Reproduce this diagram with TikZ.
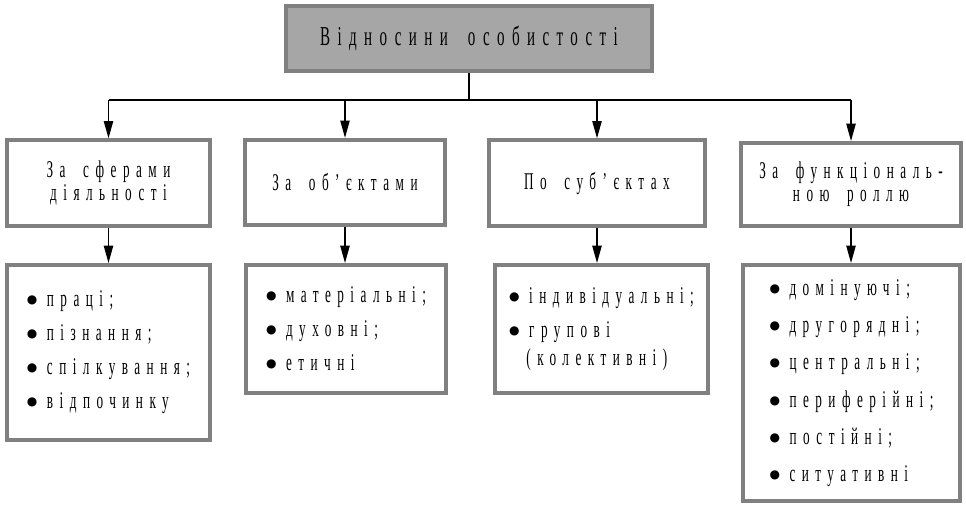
\documentclass[tikz,border=0pt]{standalone}
\usepackage{fontspec}
\usepackage{tikz}
\usetikzlibrary{arrows.meta}
\newfontfamily\nar[FakeStretch=0.55,LetterSpace=27,WordSpace=1.8]{Liberation Serif}
\newfontfamily\bltfont{DejaVu Sans}
\definecolor{rim}{RGB}{128,128,128}
\definecolor{headfill}{RGB}{166,166,166}
\newcommand\itm{\makebox[15pt][l]{\raisebox{2.2pt}{\bltfont\fontsize{9}{0}\selectfont ●}}}

\begin{document}
\begin{tikzpicture}[x=0.75pt,y=-0.75pt,
  headbox/.style={draw=rim,line width=3pt,fill=headfill,inner sep=0pt,
    minimum width=274.5pt,minimum height=48.75pt,
    font=\nar\fontsize{20.5}{24}\selectfont},
  catbox/.style={draw=rim,line width=3pt,fill=white,inner sep=0pt,align=center,
    minimum height=64pt,font=\nar\fontsize{18}{17.25}\selectfont},
  listbox/.style={draw=rim,line width=3pt,fill=white,inner sep=0pt,align=left,
    font=\nar\fontsize{18}{25.5}\selectfont},
  arr/.style={line width=1pt,-{Triangle[length=13pt,width=7pt]}}]
\useasboundingbox (0,0) rectangle (966,518);
\node [headbox] (root) at (469,38.5) {Відносини особистості};
\coordinate (bus) at (469,100);
% second row
\node [catbox,minimum width=152.25pt] (c1) at (108.5,183) {За сферами\\діяльності};
\node [catbox,minimum width=150pt] (c2) at (345,182.5) {За об’єктами};
\node [catbox,minimum width=162pt] (c3) at (597,183) {По суб’єктах};
\node [catbox,minimum width=165pt,minimum height=62.25pt] (c4) at (851,184.5) {За функціональ-\\ною роллю};
% lists
\node [listbox,minimum width=152.25pt,minimum height=131.25pt] (l1) at (108.5,352.5)
  {\itm праці;\\\itm пізнання;\\\itm спілкування;\\\itm відпочинку};
\node [listbox,minimum width=150pt,minimum height=96pt] (l2) at (346,329)
  {\itm матеріальні;\\\itm духовні;\\\itm етичні};
\node [listbox,minimum width=159.75pt,minimum height=96pt] (l3) at (601.5,329)
  {\itm індивідуальні;\\\itm групові\\[-4.5pt]\hspace*{13pt}(колективні)};
\node [listbox,minimum width=162.75pt,minimum height=177pt] (l4) at (851.5,383)
  {\itm домінуючі;\\[2.5pt]\itm другорядні;\\[2.5pt]\itm центральні;\\[2.5pt]\itm периферійні;\\[2.5pt]\itm постійні;\\[2.5pt]\itm ситуативні};
\draw [line width=1pt] (root.south) -- (bus);
\draw [line width=1pt] (c1 |- bus) -- (c4 |- bus);
\foreach \i in {1,...,4} {
  \draw [arr] (c\i |- bus) -- (c\i.north);
  \draw [arr] (c\i.south) -- (c\i.south |- l\i.north);
}
\end{tikzpicture}
\end{document}
